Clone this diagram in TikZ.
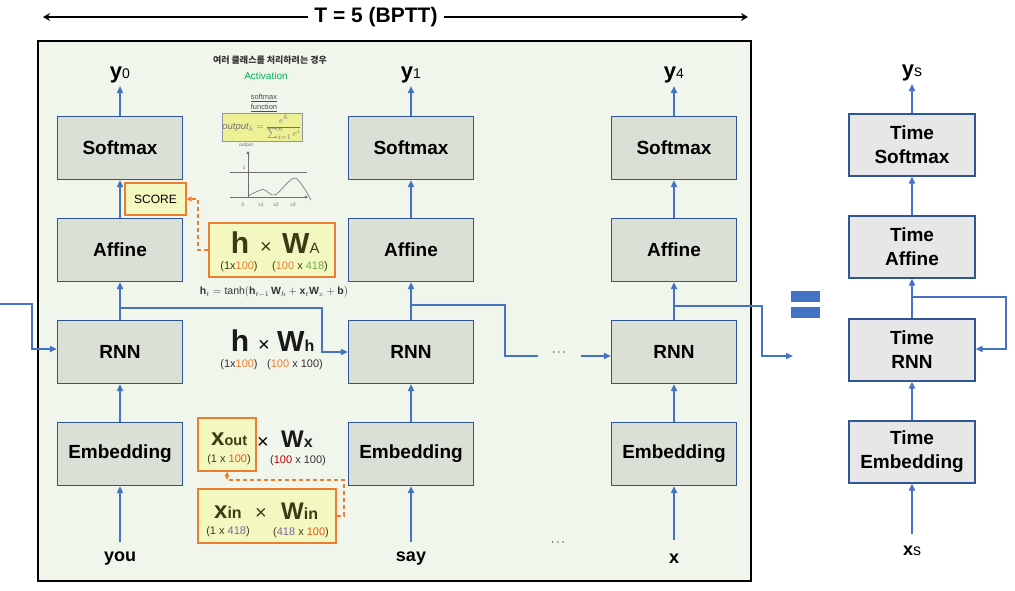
\documentclass[tikz,border=0pt]{standalone}
\usepackage{fontspec}
\setmainfont{Liberation Sans}
\newfontfamily\kfont{Noto Sans CJK KR}
\usetikzlibrary{arrows.meta}
\definecolor{arrc}{RGB}{68,114,196}
\definecolor{bordc}{RGB}{47,85,151}
\definecolor{boxc}{RGB}{218,224,214}
\definecolor{timec}{RGB}{231,231,231}
\definecolor{framec}{RGB}{240,246,236}
\definecolor{orc}{RGB}{237,125,49}
\definecolor{yelc}{RGB}{243,247,192}
\definecolor{txtol}{RGB}{60,60,20}
\definecolor{numg}{RGB}{112,173,71}
\definecolor{numr}{RGB}{192,0,0}
\definecolor{numo}{RGB}{226,86,30}
\definecolor{nump}{RGB}{128,100,162}
\definecolor{actg}{RGB}{0,176,80}
\definecolor{fboxc}{RGB}{238,240,150}
\definecolor{fbordc}{RGB}{140,150,170}
\definecolor{graphc}{RGB}{110,110,110}
\newcommand\fs[1]{\fontsize{#1}{#1}\selectfont}
\newcommand\yl[2]{{\fs{22}\bfseries #1}{\fs{14}#2}}
\begin{document}
\begin{tikzpicture}[x=1pt,y=-1pt,
  blk/.style={draw=bordc, fill=boxc, line width=1.2pt, minimum width=125pt, minimum height=63pt, inner sep=0pt, font=\fs{19}\bfseries},
  tbox/.style={draw=bordc, fill=timec, line width=1.2pt, minimum width=126pt, minimum height=62pt, inner sep=0pt, align=center, font=\fontsize{19}{24}\selectfont\bfseries},
  arr/.style={draw=arrc, line width=2pt, -{Triangle[length=7pt,width=6pt]}},
  oarr/.style={draw=orc, line width=1.3pt, dash pattern=on 4pt off 3pt, -{Triangle[length=5pt,width=5pt]}},
  tarr/.style={draw=black, line width=2.8pt, -{Stealth[length=7pt,width=8pt]}},
  ybox/.style={draw=orc, fill=yelc, line width=1.3pt, inner sep=0pt},
  lab/.style={inner sep=3pt},
  blab/.style={font=\fs{18}\bfseries, anchor=base, inner sep=3pt},
  sm/.style={font=\fs{11}, anchor=base, inner sep=0pt},
  gtxt/.style={font=\fs{5}, text=graphc, inner sep=0pt}
]
\useasboundingbox (0,0) rectangle (1015,590);
% frame
\draw[fill=framec, line width=1.2pt] (38,41) rectangle (751,581);
% title
\node[font=\fs{21}\bfseries, inner sep=6pt] (title) at (376,17) {T = 5 (BPTT)};
\coordinate (tl) at (43,17);
\coordinate (tr) at (748,17);
\draw[tarr] (title.west) -- (tl);
\draw[tarr] (title.east) -- (tr);

% columns
\foreach \c/\x in {1/120,2/411,3/674}{
  \node[blk] (sm\c) at (\x,148) {Softmax};
  \node[blk] (af\c) at (\x,250) {Affine};
  \node[blk] (rn\c) at (\x,352) {RNN};
  \node[blk] (em\c) at (\x,454) {Embedding};
  \draw[arr] (em\c.north) -- (rn\c.south);
  \draw[arr] (rn\c.north) -- (af\c.south);
  \draw[arr] (af\c.north) -- (sm\c.south);
}
\node[lab, anchor=south] (y0) at (120,86) {\yl{y}{0}};
\node[lab, anchor=south] (y1) at (411,86) {\yl{y}{1}};
\node[lab, anchor=south] (y4) at (674,86) {\yl{y}{4}};
\draw[arr] (sm1.north) -- (y0.south);
\draw[arr] (sm2.north) -- (y1.south);
\draw[arr] (sm3.north) -- (y4.south);

\node[blab] (you) at (120,561) {you};
\node[blab] (say) at (411,561) {say};
\node[blab] (xw) at (674,563) {x};
\draw[arr, shorten <=6pt] (you.north) -- (em1.south);
\draw[arr, shorten <=6pt] (say.north) -- (em2.south);
\draw[arr, shorten <=10pt] (xw.north) -- (em3.south);
\node[font=\fs{12}] (dotb) at (558,543) {$\cdots$};

% hidden connections
\coordinate (in0) at (0,304);
\draw[arr] (in0) -- (32,304) |- ([yshift=3pt]rn1.west);
\coordinate (j1) at (120,308);
\draw[arr] (j1) -- (322,308) |- (rn2.west);
\coordinate (j2) at (411,305);
\coordinate (d1) at (538,356);
\draw[draw=arrc, line width=2pt] (j2) -- (505,305) |- (d1);
\node[font=\fs{12}] (dotm) at (559,353) {$\cdots$};
\coordinate (d2) at (581,356);
\draw[arr] (d2) -- ([yshift=-4pt]rn3.west);
\coordinate (j3) at (674,306);
\coordinate (eqin) at (793,356);
\draw[arr] (j3) -- (762,306) |- (eqin);

% equals sign
\fill[arrc] (791,291) rectangle (820,302);
\fill[arrc] (791,307) rectangle (820,318);

% right column
\node[tbox] (tsm) at (912,145) {Time\\Softmax};
\node[tbox] (taf) at (912,247) {Time\\Affine};
\node[tbox] (trn) at (912,350) {Time\\RNN};
\node[tbox] (tem) at (912,452) {Time\\Embedding};
\draw[arr] (tem.north) -- (trn.south);
\draw[arr] (trn.north) -- (taf.south);
\draw[arr] (taf.north) -- (tsm.south);
\node[lab, anchor=south] (ys) at (912,84) {{\fs{22}\bfseries y}{\fs{16}s}};
\draw[arr] (tsm.north) -- (ys.south);
\node[blab] (xs) at (912,555) {x{\fs{16}\mdseries s}};
\draw[arr, shorten <=8pt] (xs.north) -- (tem.south);
\coordinate (j4) at (912,297);
\draw[arr] (j4) -- (1006,297) |- ([yshift=1pt]trn.east);

% SCORE and h x W_A
\node[ybox, minimum width=61pt, minimum height=32pt, font=\fs{12}] (score) at (155.5,199) {SCORE};
\node[ybox, minimum width=126pt, minimum height=54pt] (hwa) at (272,250) {};
\draw[oarr] (hwa.west) -- (198,250) |- (score.east);
\node[anchor=base, inner sep=0pt, text=txtol, font=\fs{30}\bfseries] (hA) at (240,253) {h};
\node[anchor=base, inner sep=0pt, text=txtol, font=\fs{20}] (xA) at (266,253) {×};
\node[anchor=base west, inner sep=0pt, text=txtol, font=\fs{29}\bfseries] (wA) at (282,253) {W{\fs{15}\mdseries A}};
\node[sm, text=txtol] (dA1) at (239,269) {(1x\textcolor{orc}{100})};
\node[sm, text=txtol] (dA2) at (300,269) {(\textcolor{orc}{100} x \textcolor{numg}{418})};

% recurrence formula
\node[font=\fs{10.5}, text=black!80] (form) at (274,292) {$\mathbf{h}_t = \tanh(\mathbf{h}_{t-1}\,\mathbf{W}_h + \mathbf{x}_t\mathbf{W}_x + \mathbf{b})$};

% h x W_h
\node[anchor=base, inner sep=0pt, font=\fs{30}\bfseries, text=black!90] (hH) at (240,351) {h};
\node[anchor=base, inner sep=0pt, font=\fs{20}] (xH) at (264,351) {×};
\node[anchor=base west, inner sep=0pt, font=\fs{29}\bfseries, text=black!90] (wH) at (277,351) {W{\fs{16}h}};
\node[sm, text=black!80] (dH1) at (239,367) {(1x\textcolor{orc}{100})};
\node[sm, text=black!80] (dH2) at (295,367) {(\textcolor{orc}{100} x 100)};

% x_out
\node[ybox, minimum width=58pt, minimum height=53pt] (xout) at (227,444.5) {};
\node[anchor=base west, inner sep=0pt, text=txtol, font=\fs{24}\bfseries] (xo) at (211,445) {x{\fs{14.5}out}};
\node[sm, text=txtol] (dxo) at (229,462) {(1 x \textcolor{numo}{100})};
\node[anchor=base, inner sep=0pt, font=\fs{20}] (xX) at (263,448) {×};
\node[anchor=base west, inner sep=0pt, font=\fs{24}\bfseries, text=black!90] (wX) at (281,447) {W{\fs{16}x}};
\node[sm, text=black!80] (dwx) at (298,463) {(\textcolor{numr}{100} x 100)};

% x_in
\node[ybox, minimum width=138pt, minimum height=54pt] (xin) at (267,516) {};
\node[anchor=base west, inner sep=0pt, text=txtol, font=\fs{24}\bfseries] (xi) at (214,518) {x{\fs{16}in}};
\node[anchor=base, inner sep=0pt, text=txtol, font=\fs{20}] (xI) at (261,519) {×};
\node[anchor=base west, inner sep=0pt, text=txtol, font=\fs{24}\bfseries] (wI) at (281,519) {W{\fs{16}in}};
\node[sm, text=txtol] (dxi) at (228,534) {(1 x \textcolor{nump}{418})};
\node[sm, text=txtol] (dwi) at (301,535) {(\textcolor{nump}{418} x \textcolor{numo}{100})};
\coordinate (ob) at (227,480);
\draw[oarr] (xin.east) -- (344,516) |- (ob) -- (xout.south -| ob);

% annotation: softmax activation
\node[font=\kfont\fs{9}\bfseries, text=black!80] (ktxt) at (270,60) {여러 클래스를 처리하려는 경우};
\node[font=\fs{10}, text=actg] (act) at (266,76) {Activation};
\node[font=\fs{7.5}, text=black!70] (smf) at (264,98) {\underline{softmax}};
\node[font=\fs{7.5}, text=black!70] (fnf) at (264,108) {\underline{function}};
\node[draw=fbordc, fill=fboxc, line width=0.8pt, minimum width=80pt, minimum height=28pt, inner sep=0pt, font=\fs{9.5}, text=black!55] (sfx) at (262,127) {$\mathit{output}_k = \displaystyle\frac{e^k}{\sum_{i=1}^{n} e^{i}}$};
\node[gtxt] (outl) at (246,145) {output};
\coordinate (g0) at (248,197);
\coordinate (gy) at (248,151);
\coordinate (gx) at (308,197);
\draw[graphc, line width=0.6pt, -{Triangle[length=3pt,width=3pt]}] (g0) -- (gy);
\draw[graphc, line width=0.6pt, -{Triangle[length=3pt,width=3pt]}] (230,197) -- (gx);
\draw[graphc, line width=0.6pt] (230,172) -- (307,172);
\draw[graphc, line width=0.6pt] plot[smooth] coordinates {(248,196) (263,189.5) (275,195) (295,178) (311,200)};
\node[gtxt] (g1l) at (244,168) {1};
\node[gtxt] (g0l) at (243,205) {0};
\node[gtxt] (gv1) at (261,205) {v1};
\node[gtxt] (gv2) at (276,205) {v2};
\node[gtxt] (gv3) at (293,205) {v3};
\end{tikzpicture}
\end{document}
